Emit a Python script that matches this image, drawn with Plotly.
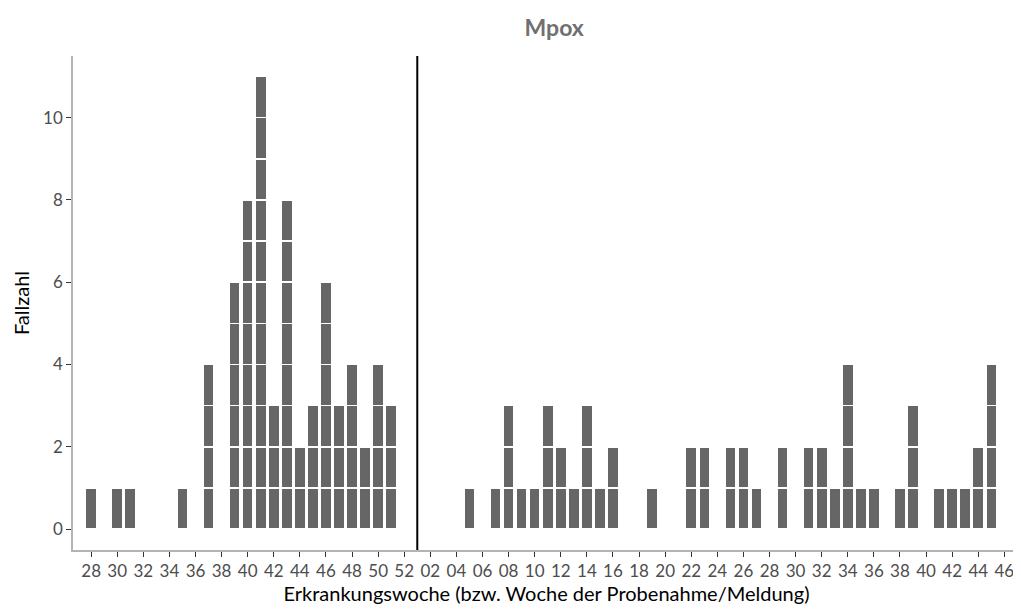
import plotly.graph_objects as go

# Erkrankungswoche: 2022 KW28-52, dann 2023 KW01-46
weeks_2022 = list(range(28, 53))
weeks_2023 = list(range(1, 47))
counts_2022 = {28: 1, 30: 1, 31: 1, 35: 1, 37: 4, 39: 6, 40: 8, 41: 11, 42: 3, 43: 8,
               44: 2, 45: 3, 46: 6, 47: 3, 48: 4, 49: 2, 50: 4, 51: 3}
counts_2023 = {5: 1, 7: 1, 8: 3, 9: 1, 10: 1, 11: 3, 12: 2, 13: 1, 14: 3, 15: 1, 16: 2,
               19: 1, 22: 2, 23: 2, 25: 2, 26: 2, 27: 1, 29: 2, 31: 2, 32: 2, 33: 1,
               34: 4, 35: 1, 36: 1, 38: 1, 39: 3, 41: 1, 42: 1, 43: 1, 44: 2, 45: 4}

labels = [f"{w:02d}" for w in weeks_2022] + [f"{w:02d}" for w in weeks_2023]
values = [counts_2022.get(w, 0) for w in weeks_2022] + [counts_2023.get(w, 0) for w in weeks_2023]
xs = list(range(len(labels)))
year_break = len(weeks_2022)  # index of 2023 KW01

fig = go.Figure()
for level in range(1, max(values) + 1):
    fig.add_trace(go.Bar(
        x=xs, y=[1 if v >= level else 0 for v in values],
        marker=dict(color="#666666", line=dict(color="white", width=1.5)),
        hoverinfo="skip", showlegend=False))

fig.add_vline(x=year_break, line=dict(color="black", width=2))

tickvals = [i for i, l in enumerate(labels) if int(l) % 2 == 0]
fig.update_layout(
    barmode="stack", bargap=0.15,
    width=1021, height=612, plot_bgcolor="white", paper_bgcolor="white",
    font=dict(family="Lato", size=17, color="#4d4d4d"),
    title=dict(text="<b>Mpox</b>", x=0.535, y=0.968, xanchor="center", yanchor="middle",
               automargin=False, font=dict(size=23, color="#707070")),
    margin=dict(l=65, r=9, t=48, b=70),
    xaxis=dict(range=[-1.39, 71.2], tickvals=tickvals, automargin=False,
               ticktext=[labels[i] for i in tickvals], tickangle=0,
               showline=True, linecolor="#b3b3b3", linewidth=1.5,
               ticks="outside", tickcolor="#333333", ticklen=5,
               showgrid=False, zeroline=False,
               title=dict(text="Erkrankungswoche (bzw. Woche der Probenahme/Meldung)",
                          standoff=2, font=dict(size=20, color="black"))),
    yaxis=dict(range=[-0.51, 11.5], tickvals=[0, 2, 4, 6, 8, 10], automargin=False,
               showline=True, linecolor="#b3b3b3", linewidth=1.5,
               ticks="outside", tickcolor="#333333", ticklen=5,
               showgrid=False, zeroline=False,
               title=dict(text="Fallzahl", standoff=8, font=dict(size=20, color="black"))),
)

fig.write_html("out.html")
